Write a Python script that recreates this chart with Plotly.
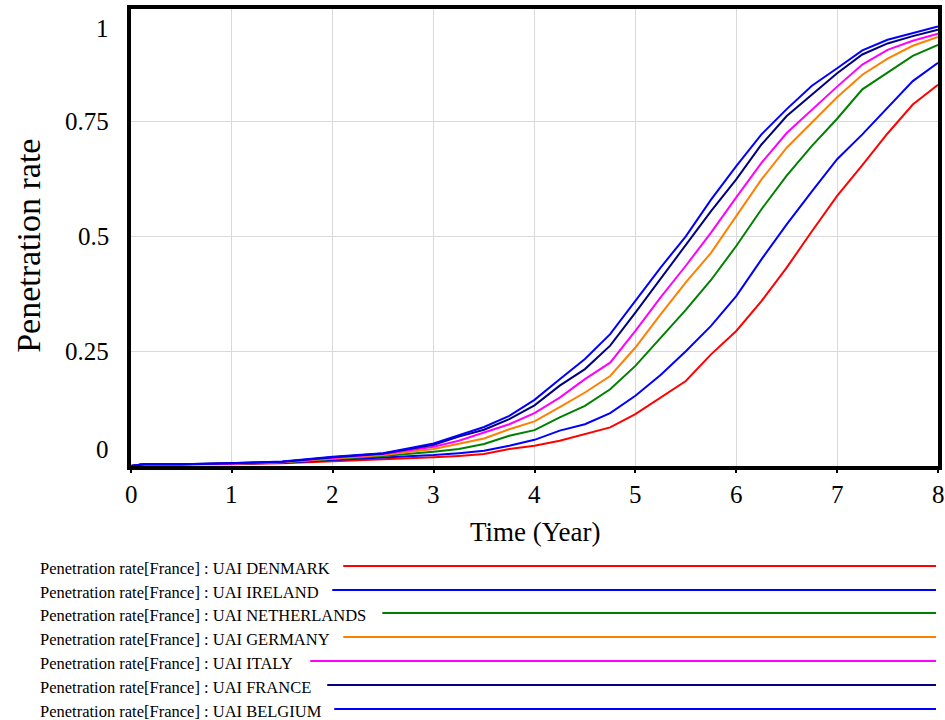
import plotly.graph_objects as go

TIME = [0, 0.125, 0.5, 1, 1.5, 2, 2.5, 3, 3.25, 3.5, 3.75, 4, 4.25, 4.5, 4.75,
        5, 5.25, 5.5, 5.75, 6, 6.25, 6.5, 6.75, 7, 7.25, 7.5, 7.75, 8]

DENMARK = [0, .004, .004, .004, .006, .010, .015, .019, .022, .026, .037, .044, .055, .070, .084,
           .113, .149, .185, .243, .294, .359, .432, .511, .588, .655, .724, .787, .830]
IRELAND = [0, .004, .004, .005, .007, .013, .018, .024, .028, .033, .044, .057, .077, .091, .115,
           .153, .198, .250, .305, .370, .450, .526, .598, .668, .722, .781, .838, .878]
NETHERLANDS = [0, .004, .004, .005, .008, .015, .022, .031, .037, .048, .066, .078, .106, .131, .167,
               .218, .280, .340, .405, .479, .559, .632, .697, .756, .820, .856, .893, .917]
GERMANY = [0, .004, .004, .005, .008, .016, .024, .037, .048, .060, .080, .097, .128, .160, .196,
           .258, .330, .400, .464, .544, .624, .693, .747, .803, .852, .887, .915, .934]
ITALY = [0, .004, .004, .005, .009, .017, .026, .042, .055, .073, .091, .115, .149, .189, .225,
         .294, .367, .436, .508, .585, .660, .725, .776, .826, .874, .906, .926, .941]
FRANCE = [0, .004, .004, .006, .009, .019, .027, .046, .064, .079, .102, .132, .175, .211, .262,
          .334, .407, .482, .555, .624, .700, .762, .809, .855, .896, .920, .936, .950]
BELGIUM = [0, .004, .004, .006, .010, .020, .028, .049, .067, .085, .109, .144, .189, .233, .287,
           .359, .432, .500, .580, .653, .722, .777, .828, .866, .905, .928, .943, .957]

SERIES_NAMES = ["Penetration rate[France] : UAI DENMARK",
                "Penetration rate[France] : UAI IRELAND",
                "Penetration rate[France] : UAI NETHERLANDS",
                "Penetration rate[France] : UAI GERMANY",
                "Penetration rate[France] : UAI ITALY",
                "Penetration rate[France] : UAI FRANCE",
                "Penetration rate[France] : UAI BELGIUM"]
SERIES_VALUES = [DENMARK, IRELAND, NETHERLANDS, GERMANY, ITALY, FRANCE, BELGIUM]
COLORS = ["#ff0000", "#0000ff", "#008000", "#ff8000", "#ff00ff", "#000080", "#0000ff"]

X_TICKS = [0, 1, 2, 3, 4, 5, 6, 7, 8]
X_TICK_LABELS = ["0", "1", "2", "3", "4", "5", "6", "7", "8"]
Y_TICK_LABELS = ["1", "0.75", "0.5", "0.25", "0"]
Y_TICK_POS = [0.952, 0.75, 0.5, 0.25, 0.035]

FONT = "Liberation Serif"
W, H = 945, 720
L, R, T, B = 131, 3, 9, 254
W_EFF = 940  # effective rendered width observed

plot_w = W_EFF - L - R
plot_h = H - T - B


def px_to_paper_x(px):
    return (px - L) / plot_w


def py_to_paper_y(py):
    return (H - B - py) / plot_h


fig = go.Figure()
for name, vals, col in zip(SERIES_NAMES, SERIES_VALUES, COLORS):
    fig.add_trace(go.Scatter(x=TIME, y=vals, mode="lines", name=name,
                             line=dict(color=col, width=2), showlegend=False))

annotations = []
for lab, pos in zip(Y_TICK_LABELS, Y_TICK_POS):
    annotations.append(dict(x=0, xref="paper", xanchor="right", xshift=-20,
                            y=pos, yref="y", yanchor="middle", text=lab, showarrow=False,
                            font=dict(family=FONT, size=25, color="black")))
for lab, pos in zip(X_TICK_LABELS, X_TICKS):
    annotations.append(dict(x=pos, xref="x", xanchor="center",
                            y=py_to_paper_y(495), yref="paper", yanchor="middle",
                            text=lab, showarrow=False,
                            font=dict(family=FONT, size=25, color="black")))

annotations.append(dict(x=px_to_paper_x(29), xref="paper", y=py_to_paper_y(246), yref="paper",
                        text="Penetration rate", showarrow=False, textangle=-90,
                        xanchor="center", yanchor="middle",
                        font=dict(family=FONT, size=34, color="black")))

annotations.append(dict(x=px_to_paper_x(535), xref="paper", y=py_to_paper_y(532), yref="paper",
                        text="Time (Year)", showarrow=False, xanchor="center", yanchor="middle",
                        font=dict(family=FONT, size=27, color="black")))

LEG_Y = [568, 592, 615, 639, 663, 687, 711]
LEG_LINE_START = [343, 332, 382, 343, 310, 327, 334]
shapes = []
for name, col, ly, ls in zip(SERIES_NAMES, COLORS, LEG_Y, LEG_LINE_START):
    annotations.append(dict(x=px_to_paper_x(38), xref="paper", y=py_to_paper_y(ly), yref="paper",
                            text=name, showarrow=False, xanchor="left", yanchor="middle",
                            font=dict(family=FONT, size=16.5, color="black")))
    shapes.append(dict(type="line", xref="paper", yref="paper",
                       x0=px_to_paper_x(ls), x1=px_to_paper_x(935),
                       y0=py_to_paper_y(ly - 2), y1=py_to_paper_y(ly - 2),
                       line=dict(color=col, width=2)))

fig.update_layout(
    width=W, height=H,
    margin=dict(l=L, r=R, t=T, b=B),
    plot_bgcolor="white", paper_bgcolor="white",
    annotations=annotations, shapes=shapes,
    xaxis=dict(range=[0, 8], tickvals=X_TICKS, showticklabels=False,
               showgrid=True, gridcolor="#d9d9d9", gridwidth=1,
               showline=True, linecolor="black", linewidth=4, mirror=True,
               ticks="outside", ticklen=3, tickwidth=2, tickcolor="black",
               zeroline=False, fixedrange=True),
    yaxis=dict(range=[0, 0.995], tickvals=[0, 0.25, 0.5, 0.75, 1], showticklabels=False,
               showgrid=True, gridcolor="#d9d9d9", gridwidth=1,
               showline=True, linecolor="black", linewidth=4, mirror=True,
               ticks="", zeroline=False, fixedrange=True),
)

fig.write_html("out.html")
